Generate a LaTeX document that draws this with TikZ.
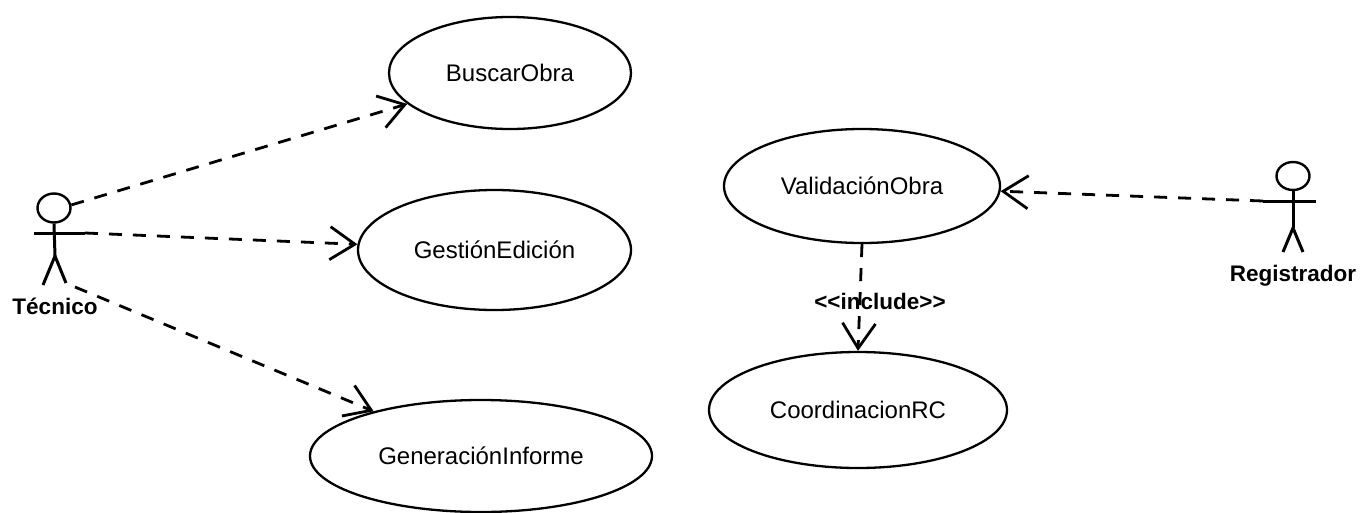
\documentclass[tikz,border=0pt]{standalone}
\usepackage{fontspec}
\setmainfont{Liberation Sans}
\newfontfamily\ucfont{Liberation Sans}
\newfontfamily\actfont{Liberation Sans}
\usetikzlibrary{shapes.geometric,arrows.meta}
\tikzset{
  usecase/.style={draw=black,line width=2.3pt,ellipse,inner sep=0pt,font=\ucfont\fontsize{24}{28}\selectfont},
  limb/.style={draw=black,line width=3pt},
  assoc/.style={draw=black,line width=2.8pt,dash pattern=on 13pt off 11pt,-{Straight Barb[length=25pt,width=33pt,line width=2.8pt]}},
  actorname/.style={font=\actfont\bfseries\fontsize{22.5}{26}\selectfont,inner sep=0pt},
  head/.style={draw=black,line width=2.4pt,ellipse,inner sep=0pt}
}
\begin{document}
\begin{tikzpicture}[x=1pt,y=-1pt]
\useasboundingbox (0,0) rectangle (1361,512);
\node[usecase,minimum width=242pt,minimum height=112pt] (buscar) at (510,73) {BuscarObra};
\node[usecase,minimum width=273pt,minimum height=120pt] (gestion) at (494.5,250) {GestiónEdición};
\node[usecase,minimum width=342pt,minimum height=112pt] (informe) at (481,456) {GeneraciónInforme};
\node[usecase,minimum width=276pt,minimum height=114pt] (valida) at (862,186) {ValidaciónObra};
\node[usecase,minimum width=298pt,minimum height=116pt] (coord) at (858,410) {CoordinacionRC};
% Tecnico
\node[head,minimum width=33pt,minimum height=29pt] (thead) at (54,208) {};
\coordinate (tarml) at (34,233);
\coordinate (tarmr) at (85,233);
\coordinate (thip) at (55,256);
\coordinate (tlegl) at (43,285);
\coordinate (tlegr) at (66,283);
\coordinate (tfoot) at (75,287);
\draw[limb] (tarml) -- (tarmr);
\draw[limb] (thead.south) -- (thip);
\draw[limb] (tlegl) -- (thip) -- (tlegr);
\node[actorname] (tname) at (55,306) {Técnico};
% Registrador
\node[head,minimum width=33pt,minimum height=28pt] (rhead) at (1293,176) {};
\coordinate (rarml) at (1263,201);
\coordinate (rarmr) at (1316,201);
\coordinate (rhip) at (1293,228);
\coordinate (rlegl) at (1283,252);
\coordinate (rlegr) at (1303,252);
\draw[limb] (rarml) -- (rarmr);
\draw[limb] (rhead.south) -- (rhip);
\draw[limb] (rlegl) -- (rhip) -- (rlegr);
\node[actorname] (rname) at (1293,276) {Registrador};
% connectors
\draw[assoc] (thead.10) -- (buscar);
\draw[assoc] (tarmr) -- (gestion);
\draw[assoc] (tfoot) -- (informe);
\draw[assoc] (rarml) -- (valida);
\draw[assoc] (valida.south) -- (coord.north);
\node[font=\actfont\bfseries\fontsize{22.5}{26}\selectfont,inner sep=0pt] (inc) at (880,301) {<{}<include>{}>};
\end{tikzpicture}
\end{document}
